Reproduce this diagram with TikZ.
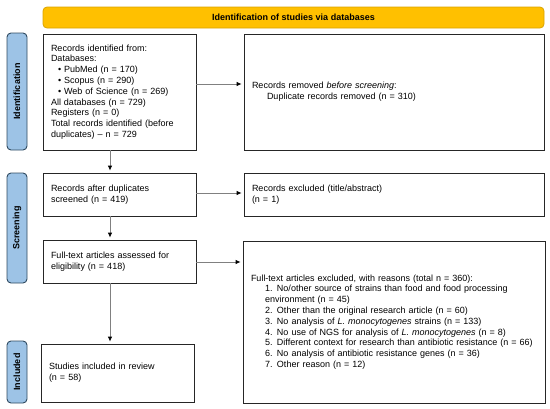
\documentclass[tikz,border=0pt]{standalone}
\usepackage{fontspec}
\setmainfont{Liberation Sans}
\usetikzlibrary{arrows.meta,calc}
\definecolor{bannerfill}{HTML}{FFC000}
\definecolor{bannerdraw}{HTML}{D9A300}
\definecolor{sidefill}{HTML}{9DC3E6}
\definecolor{sidedraw}{HTML}{2F4A60}
\definecolor{arrgray}{HTML}{808080}
\begin{document}
\begin{tikzpicture}[x=1pt,y=-1pt,
  every node/.style={font=\fontsize{9}{10.8}\selectfont},
  box/.style={draw=black!85, line width=0.8pt, inner xsep=8pt, inner ysep=0pt, align=left, anchor=center},
  banner/.style={draw=bannerdraw, fill=bannerfill, line width=0.8pt, rounded corners=4pt, font=\fontsize{9}{10.8}\selectfont\bfseries, minimum width=501pt, minimum height=21pt, inner sep=0pt},
  side/.style={draw=sidedraw, fill=sidefill, line width=0.9pt, rounded corners=4pt, rotate=90, font=\fontsize{9}{10.8}\selectfont\bfseries, minimum width=#1, minimum height=20pt, inner sep=0pt},
  arr/.style={draw=arrgray, line width=0.8pt, shorten >=2pt, -{Latex[length=5pt,width=4.5pt,black]}}
]
\useasboundingbox (0,0) rectangle (550,408);

\node[banner] (ban) at (293.5,17.5) {Identification of studies via databases};

\node[side=117pt] (sid) at (17,91.5) {Identification};
\node[side=110pt] (sscr) at (17,228) {Screening};
\node[side=62pt] (sinc) at (17,372) {Included};

\node[box, text width=137pt, minimum width=153pt, minimum height=116pt] (b1) at (119.5,92) {Records identified from:\\
Databases:\\
\hspace*{7pt}\textbullet\ PubMed (n = 170)\\
\hspace*{7pt}\textbullet\ Scopus (n = 290)\\
\hspace*{7pt}\textbullet\ Web of Science (n = 269)\\
All databases (n = 729)\\
Registers (n = 0)\\
Total records identified (before\\
duplicates) -- n = 729};

\node[box, text width=284pt, minimum width=300pt, minimum height=116pt] (rem) at (394,92) {Records removed \textit{before screening}:\\
\hspace*{15pt}Duplicate records removed (n = 310)\\[8pt]};

\node[box, text width=137pt, minimum width=153pt, minimum height=43pt] (b2) at (119.5,194.5) {Records after duplicates\\screened (n = 419)};

\node[box, text width=284pt, minimum width=300pt, minimum height=43pt] (exc1) at (394,194.5) {Records excluded (title/abstract)\\(n = 1)};

\node[box, text width=137pt, minimum width=153pt, minimum height=43pt] (b3) at (119.5,261.5) {Full-text articles assessed for\\eligibility (n = 418)};

\node[box, text width=286pt, minimum width=302pt, minimum height=162pt] (exc2) at (394,322) {Full-text articles excluded, with reasons (total n = 360):\\
\hspace*{14pt}1. No/other source of strains than food and food processing\\
\hspace*{14pt}environment (n = 45)\\
\hspace*{14pt}2. Other than the original research article (n = 60)\\
\hspace*{14pt}3. No analysis of \textit{L. monocytogenes} strains (n = 133)\\
\hspace*{14pt}4. No use of NGS for analysis of \textit{L. monocytogenes} (n = 8)\\
\hspace*{14pt}5. Different context for research than antibiotic resistance (n = 66)\\
\hspace*{14pt}6. No analysis of antibiotic resistance genes (n = 36)\\
\hspace*{14pt}7. Other reason (n = 12)};

\node[box, text width=137pt, minimum width=153pt, minimum height=58pt] (b4) at (117.5,373) {Studies included in review\\(n = 58)};

\draw[arr] (b1.east |- 0,84) -- (rem.west |- 0,84);
\draw[arr] (b2.east |- 0,193) -- (exc1.west |- 0,193);
\draw[arr] (b3.east |- 0,262) -- (exc2.west |- 0,262);
\draw[arr] (b1.south -| 110,0) -- (b2.north -| 110,0);
\draw[arr] (b2.south -| 110,0) -- (b3.north -| 110,0);
\draw[arr] (b3.south -| 110,0) -- (b4.north -| 110,0);
\end{tikzpicture}
\end{document}
